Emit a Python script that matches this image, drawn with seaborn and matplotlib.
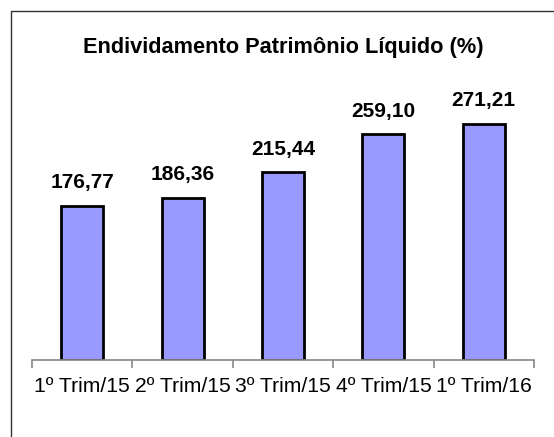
import matplotlib
matplotlib.use("Agg")
import matplotlib.pyplot as plt
from matplotlib.lines import Line2D
import seaborn as sns
import pandas as pd

categories = ["1º Trim/15", "2º Trim/15", "3º Trim/15", "4º Trim/15", "1º Trim/16"]
values = [176.77, 186.36, 215.44, 259.10, 271.21]
title = "Endividamento Patrimônio Líquido (%)"

sns.set_style("white")
plt.rcParams['font.family'] = ['Liberation Sans', 'DejaVu Sans']
plt.rcParams['text.color'] = 'black'
plt.rcParams['xtick.color'] = 'black'

W, H = 554, 437
fig = plt.figure(figsize=(W / 100, H / 100), dpi=100)
ax = fig.add_axes([32 / W, 1 - 360 / H, (534 - 32) / W, 300 / H])

df = pd.DataFrame({"cat": categories, "val": values})
sns.barplot(data=df, x="cat", y="val", color="#9999FF", saturation=1,
            edgecolor="black", linewidth=2, width=0.42, ax=ax)

ax.bar_label(ax.containers[0], fmt=lambda v: f"{v:.2f}".replace(".", ","),
             padding=10, fontsize=15, fontweight="bold", color="black")

ax.set_ylim(0, 300 / 0.8705)
ax.set_xlim(-0.5, 4.5)
ax.set_xlabel("")
ax.set_ylabel("")
ax.set_yticks([])
for s in ["top", "right", "left"]:
    ax.spines[s].set_visible(False)
ax.spines["bottom"].set_color("#888888")
ax.spines["bottom"].set_linewidth(1.2)
ax.set_xticks(range(len(categories)))
ax.set_xticklabels(categories, fontsize=15.2, color="black")
ax.tick_params(axis="x", which="major", length=0, pad=12)
ax.set_xticks([i - 0.5 for i in range(len(categories) + 1)], minor=True)
ax.tick_params(axis="x", which="minor", bottom=True, length=6, width=1.2,
               color="#888888", direction="out")

fig.text(283 / W, 1 - 47 / H, title, ha="center", va="center",
         fontsize=15.7, fontweight="bold", color="black")

x0 = 11 / W
y0 = 1 - 11 / H
fig.add_artist(Line2D([x0, x0], [0, y0], color="#333333", linewidth=1))
fig.add_artist(Line2D([x0, 1], [y0, y0], color="#333333", linewidth=1))

fig.savefig("out.png", dpi=100)
